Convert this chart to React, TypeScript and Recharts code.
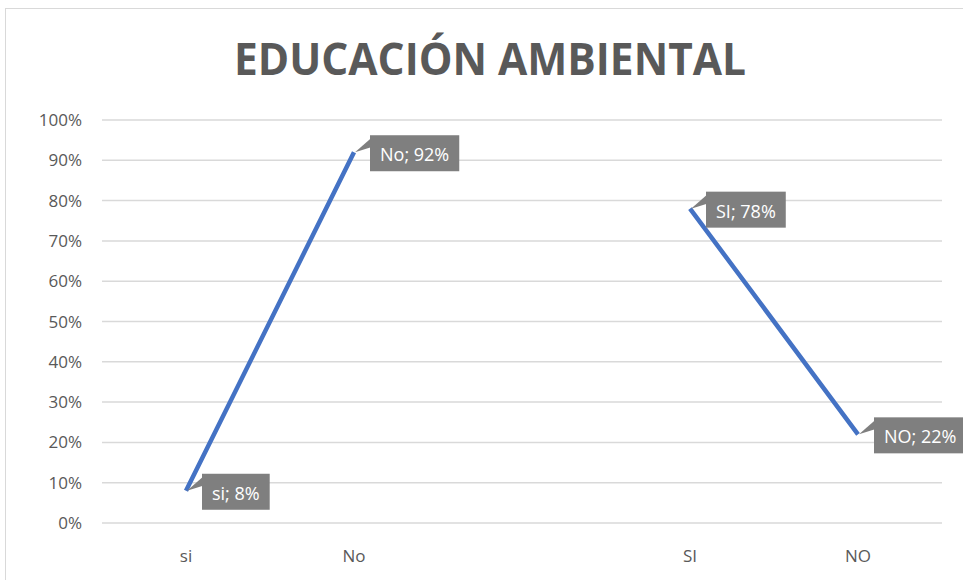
import * as React from "react"
import {
  CartesianGrid,
  LabelList,
  Line,
  LineChart,
  XAxis,
  YAxis,
} from "recharts"

const categories = ["si", "No", "", "SI", "NO"]
const values: (number | null)[] = [8, 92, null, 78, 22]
const yTicks = [0, 10, 20, 30, 40, 50, 60, 70, 80, 90, 100]

const data = categories.map((cat, i) => ({ cat, value: values[i] }))

const FONT = "'Open Sans', 'Noto Sans', sans-serif"
const TEXT_GRAY = "#595959"

let measureCtx: CanvasRenderingContext2D | null = null
function textWidth(s: string, font: string) {
  if (!measureCtx) measureCtx = document.createElement("canvas").getContext("2d")
  if (!measureCtx) return s.length * 10
  measureCtx.font = font
  return measureCtx.measureText(s).width
}

// callout box like Excel's data label shape, to the right of the point
const Callout = (props: any) => {
  const { x, y, value, index } = props
  if (value == null || x == null || y == null) return null
  const label = `${categories[index]}; ${value}%`
  const tw = textWidth(label, `18px ${FONT}`)
  const bx = x + 16
  const by = y - 17
  const w = tw + 20
  const h = 36
  return (
    <g>
      <polygon
        points={`${x + 1},${y} ${bx + 1},${by + 3} ${bx + 1},${by + 12}`}
        fill="#7f7f7f"
      />
      <rect x={bx} y={by} width={w} height={h} fill="#7f7f7f" />
      <text
        x={bx + 10}
        y={by + h / 2 + 1}
        dominantBaseline="central"
        fill="#ffffff"
        fontSize={18}
        fontFamily={FONT}
      >
        {label}
      </text>
    </g>
  )
}

export default function App() {
  return (
    <div style={{ position: "absolute", left: 0, top: 0, width: 963, height: 580, background: "#fff", overflow: "hidden" }}>
      <div
        style={{
          position: "absolute",
          left: 5,
          top: 8,
          width: 980,
          height: 590,
          border: "1px solid #d9d9d9",
        }}
      />
      <svg
        width={963}
        height={100}
        style={{ position: "absolute", left: 0, top: 0 }}
      >
        <text
          x={490}
          y={75}
          textAnchor="middle"
          fill={TEXT_GRAY}
          fontSize={44}
          fontWeight="bold"
          fontFamily={FONT}
          textLength={512}
          lengthAdjust="spacingAndGlyphs"
        >
          EDUCACIÓN AMBIENTAL
        </text>
      </svg>
      <div style={{ position: "absolute", left: 0, top: 0 }}>
        <LineChart
          width={963}
          height={580}
          data={data}
          margin={{ top: 120, right: 21, bottom: 27, left: 0 }}
        >
          <CartesianGrid vertical={false} stroke="#d9d9d9" strokeWidth={1.5} />
          <XAxis
            dataKey="cat"
            height={30}
            axisLine={false}
            tickLine={false}
            padding={{ left: 84, right: 84 }}
            tick={{ fill: TEXT_GRAY, fontSize: 17, fontFamily: FONT }}
            tickMargin={21}
            interval={0}
          />
          <YAxis
            width={102}
            domain={[0, 100]}
            ticks={yTicks}
            axisLine={false}
            tickLine={false}
            tickMargin={14}
            tickFormatter={(v: number) => `${v}%`}
            tick={{ fill: TEXT_GRAY, fontSize: 17, fontFamily: FONT }}
          />
          <Line
            dataKey="value"
            stroke="#4472c4"
            strokeWidth={4.5}
            dot={false}
            activeDot={false}
            connectNulls={false}
            isAnimationActive={false}
          >
            <LabelList dataKey="value" content={Callout} />
          </Line>
        </LineChart>
      </div>
    </div>
  )
}
